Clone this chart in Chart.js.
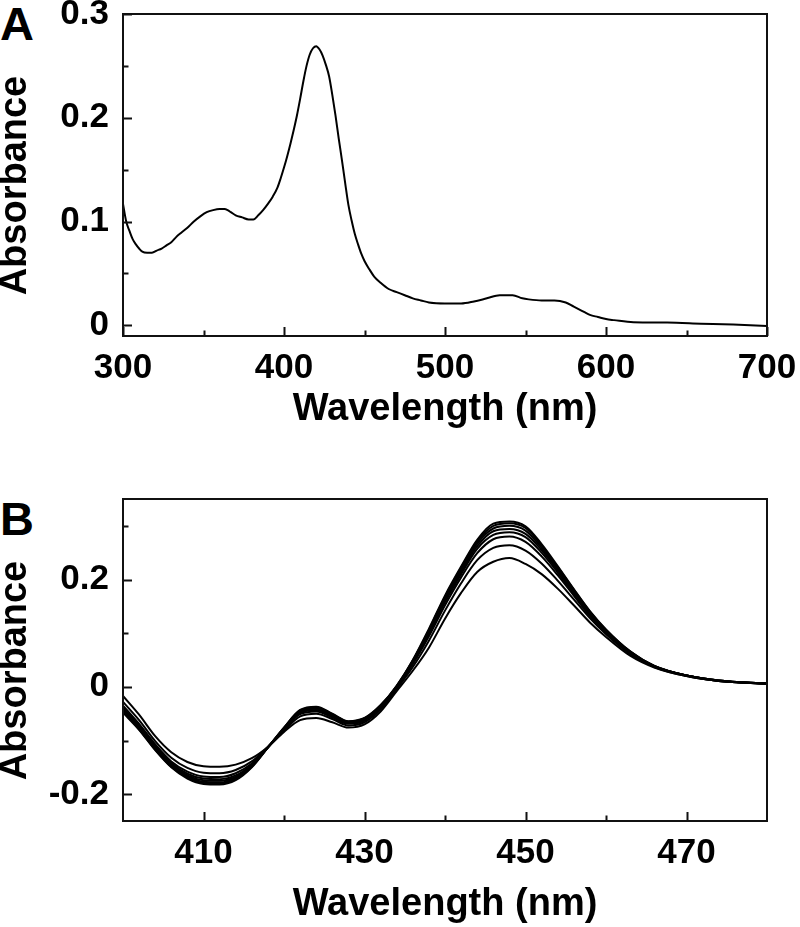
<!DOCTYPE html>
<html>
<head>
<meta charset="utf-8">
<script src="https://cdn.jsdelivr.net/npm/chart.js@4.4.1/dist/chart.umd.min.js"></script>
<style>
  html, body { margin: 0; padding: 0; background: #fff; }
  body { width: 800px; height: 927px; position: relative; overflow: hidden; }
  canvas { position: absolute; left: 0; }
  .panel { position: absolute; left: 0; font: bold 47px "Liberation Sans", Arial, sans-serif; line-height: 1; color: #000; }
</style>
</head>
<body>
<div class="panel" style="top:0">A</div>
<div class="panel" style="top:495px">B</div>
<canvas id="chartA" width="800" height="440" style="top:0"></canvas>
<canvas id="chartB" width="800" height="457" style="top:470px"></canvas>
<script>
// Panel A: absorption spectrum
const WAVE_A = [300, 302, 304, 306, 308, 310, 312, 315, 318, 321, 324, 327, 330, 333, 336, 340, 344, 348, 352, 356,
  360, 363, 365, 367, 370, 374, 378, 381, 384, 387, 390, 393, 396, 398, 400, 402, 404, 406, 408, 410,
  412, 414, 416, 418, 420, 422, 424, 426, 428, 430, 432, 434, 436, 438, 440, 442, 444, 446, 448, 450,
  453, 456, 460, 465, 470, 475, 480, 485, 490, 500, 510, 518, 526, 534, 542, 548, 552, 560, 568, 575,
  580, 585, 590, 595, 600, 605, 617, 638, 659, 679, 700]
const ABS_A = [0.117, 0.100, 0.091, 0.083, 0.078, 0.074, 0.071, 0.070, 0.070, 0.072, 0.074, 0.077, 0.080, 0.085, 0.089, 0.094, 0.100, 0.105, 0.109, 0.111,
  0.112, 0.112, 0.111, 0.109, 0.106, 0.104, 0.102, 0.102, 0.106, 0.111, 0.117, 0.124, 0.133, 0.142, 0.152, 0.163, 0.175, 0.188, 0.202, 0.218,
  0.235, 0.250, 0.261, 0.267, 0.269, 0.266, 0.260, 0.251, 0.240, 0.222, 0.202, 0.180, 0.159, 0.137, 0.116, 0.101, 0.088, 0.078, 0.069, 0.062,
  0.054, 0.047, 0.041, 0.035, 0.032, 0.029, 0.026, 0.024, 0.022, 0.021, 0.021, 0.023, 0.026, 0.029, 0.029, 0.026, 0.025, 0.024, 0.024, 0.022,
  0.018, 0.014, 0.010, 0.008, 0.006, 0.005, 0.003, 0.0026, 0.0016, 0.0007, -0.0007]
const A_X_TICKS = [300, 350, 400, 450, 500, 550, 600, 650, 700]
const A_X_LABELS = ['300', '', '400', '', '500', '', '600', '', '700']
const A_Y_TICKS = [0, 0.05, 0.1, 0.15, 0.2, 0.25, 0.3]
const A_Y_LABELS = ['0', '', '0.1', '', '0.2', '', '0.3']

// Panel B: difference spectra of the titration
const WAVE_B = [400, 402, 404, 406, 408, 410, 412, 414, 416, 418, 420, 422, 424, 426, 428, 430, 432, 434,
  436, 438, 440, 442, 444, 446, 448, 450, 452, 454, 456, 458, 460, 463, 466, 470, 474, 480]
const B1 = [-0.017, -0.052, -0.092, -0.122, -0.140, -0.148, -0.149, -0.145, -0.133, -0.112, -0.084, -0.062, -0.058, -0.066, -0.076, -0.070, -0.046, -0.008,
  0.030, 0.073, 0.127, 0.175, 0.214, 0.233, 0.240, 0.229, 0.210, 0.183, 0.152, 0.120, 0.093, 0.058, 0.036, 0.020, 0.011, 0.006]
const B2 = [-0.028, -0.062, -0.101, -0.132, -0.151, -0.160, -0.161, -0.155, -0.139, -0.112, -0.082, -0.055, -0.050, -0.060, -0.072, -0.066, -0.042, -0.004,
  0.037, 0.086, 0.142, 0.193, 0.236, 0.259, 0.264, 0.254, 0.230, 0.198, 0.163, 0.128, 0.098, 0.061, 0.037, 0.020, 0.011, 0.006]
const B3 = [-0.035, -0.069, -0.107, -0.139, -0.158, -0.167, -0.168, -0.161, -0.143, -0.112, -0.080, -0.051, -0.046, -0.057, -0.069, -0.063, -0.039, -0.002,
  0.042, 0.094, 0.152, 0.204, 0.249, 0.275, 0.280, 0.270, 0.243, 0.208, 0.170, 0.132, 0.101, 0.063, 0.038, 0.021, 0.011, 0.006]
const B4 = [-0.039, -0.072, -0.110, -0.142, -0.162, -0.171, -0.172, -0.165, -0.145, -0.113, -0.079, -0.049, -0.043, -0.055, -0.067, -0.061, -0.037, -0.001,
  0.044, 0.098, 0.158, 0.210, 0.257, 0.283, 0.288, 0.279, 0.250, 0.213, 0.173, 0.135, 0.103, 0.064, 0.038, 0.021, 0.011, 0.006]
const B5 = [-0.042, -0.074, -0.113, -0.144, -0.165, -0.174, -0.175, -0.168, -0.146, -0.113, -0.078, -0.047, -0.041, -0.053, -0.066, -0.060, -0.036, 0.000,
  0.046, 0.101, 0.161, 0.214, 0.262, 0.290, 0.294, 0.285, 0.255, 0.217, 0.176, 0.137, 0.104, 0.064, 0.038, 0.021, 0.012, 0.006]
const B6 = [-0.044, -0.077, -0.115, -0.147, -0.167, -0.177, -0.178, -0.170, -0.148, -0.113, -0.077, -0.045, -0.040, -0.052, -0.065, -0.059, -0.035, 0.001,
  0.048, 0.104, 0.165, 0.218, 0.267, 0.295, 0.300, 0.291, 0.259, 0.220, 0.178, 0.138, 0.105, 0.065, 0.039, 0.021, 0.012, 0.006]
const B7 = [-0.046, -0.079, -0.117, -0.149, -0.169, -0.179, -0.180, -0.172, -0.149, -0.113, -0.076, -0.044, -0.038, -0.051, -0.065, -0.059, -0.035, 0.002,
  0.049, 0.106, 0.168, 0.222, 0.271, 0.300, 0.305, 0.296, 0.263, 0.223, 0.181, 0.140, 0.106, 0.066, 0.039, 0.021, 0.012, 0.006]
const B8 = [-0.048, -0.080, -0.118, -0.150, -0.171, -0.181, -0.182, -0.174, -0.150, -0.113, -0.076, -0.043, -0.037, -0.050, -0.064, -0.058, -0.034, 0.002,
  0.050, 0.108, 0.170, 0.224, 0.274, 0.304, 0.308, 0.299, 0.266, 0.225, 0.182, 0.141, 0.107, 0.066, 0.039, 0.021, 0.012, 0.006]
const SERIES_B = [B1, B2, B3, B4, B5, B6, B7, B8]
const B_X_TICKS = [410, 420, 430, 440, 450, 460, 470]
const B_X_LABELS = ['410', '', '430', '', '450', '', '470']
const B_Y_TICKS = [-0.2, -0.1, 0, 0.1, 0.2, 0.3]
const B_Y_LABELS = ['-0.2', '', '0', '', '0.2', '']

const FONT = '"Liberation Sans", Arial, Helvetica, sans-serif'
Chart.defaults.color = '#000'
Chart.defaults.font.family = FONT

// box around the plot and inward tick marks, long on labelled ticks
const frameTicks = {
  id: 'frameTicks',
  afterDatasetsDraw(chart) {
    const { ctx, chartArea: a, scales: { x, y } } = chart
    ctx.save()
    ctx.strokeStyle = '#111'
    ctx.lineWidth = 2
    ctx.strokeRect(a.left, a.top, a.right - a.left, a.bottom - a.top)
    ctx.beginPath()
    x.ticks.forEach(t => {
      const px = Math.round(x.getPixelForValue(t.value)) + 0.5
      ctx.moveTo(px, a.bottom)
      ctx.lineTo(px, a.bottom - (t.label ? 9 : 5.5))
    })
    y.ticks.forEach(t => {
      const py = Math.round(y.getPixelForValue(t.value)) + 0.5
      ctx.moveTo(a.left, py)
      ctx.lineTo(a.left + (t.label ? 9 : 5.5), py)
    })
    ctx.stroke()
    ctx.restore()
  }
}

function makePanel(id, cfg) {
  const datasets = cfg.series.map(vals => ({
    data: vals.map((v, i) => ({ x: cfg.waves[i], y: v })),
    borderColor: '#000',
    borderWidth: cfg.lineWidth,
    pointRadius: 0,
    fill: false,
    cubicInterpolationMode: 'monotone'
  }))

  return new Chart(document.getElementById(id), {
    type: 'line',
    data: { datasets },
    plugins: [frameTicks],
    options: {
      responsive: false,
      animation: false,
      devicePixelRatio: 1,
      layout: { padding: { left: 0, right: 33, top: cfg.top, bottom: 0 } },
      plugins: { legend: { display: false }, tooltip: { enabled: false } },
      scales: {
        x: {
          type: 'linear',
          min: cfg.xMin,
          max: cfg.xMax,
          afterBuildTicks: s => { s.ticks = cfg.xTicks.map(v => ({ value: v })) },
          afterFit: s => { s.height = cfg.xHeight; s.paddingLeft = 0; s.paddingRight = 0 },
          grid: { display: false, drawTicks: false },
          border: { display: false },
          ticks: {
            autoSkip: false,
            maxRotation: 0,
            padding: 11,
            color: '#000',
            font: { size: 35, weight: 'bold' },
            callback: (v, i) => cfg.xLabels[i]
          },
          title: {
            display: true,
            text: 'Wavelength (nm)',
            color: '#000',
            font: { size: 38, weight: 'bold' },
            padding: { top: 0, bottom: cfg.titlePad }
          }
        },
        y: {
          type: 'linear',
          min: cfg.yMin,
          max: cfg.yMax,
          afterBuildTicks: s => { s.ticks = cfg.yTicks.map(v => ({ value: v })) },
          afterFit: s => { s.width = 123; s.paddingTop = 0; s.paddingBottom = 0 },
          grid: { display: false, drawTicks: false },
          border: { display: false },
          ticks: {
            autoSkip: false,
            padding: 14,
            color: '#000',
            font: { size: 35, weight: 'bold' },
            callback: (v, i) => cfg.yLabels[i]
          },
          title: {
            display: true,
            text: 'Absorbance  ',
            color: '#000',
            font: { size: 38, weight: 'bold', lineHeight: 0.84 },
            padding: 0
          }
        }
      }
    }
  })
}

makePanel('chartA', {
  waves: WAVE_A, series: [ABS_A], lineWidth: 2,
  xMin: 300, xMax: 700, yMin: -0.0103, yMax: 0.3,
  xTicks: A_X_TICKS, xLabels: A_X_LABELS, yTicks: A_Y_TICKS, yLabels: A_Y_LABELS,
  top: 14, xHeight: 104, titlePad: 8
})

makePanel('chartB', {
  waves: WAVE_B, series: SERIES_B, lineWidth: 2,
  xMin: 400, xMax: 480, yMin: -0.25, yMax: 0.35,
  xTicks: B_X_TICKS, xLabels: B_X_LABELS, yTicks: B_Y_TICKS, yLabels: B_Y_LABELS,
  top: 29, xHeight: 106, titlePad: 0
})
</script>
</body>
</html>
